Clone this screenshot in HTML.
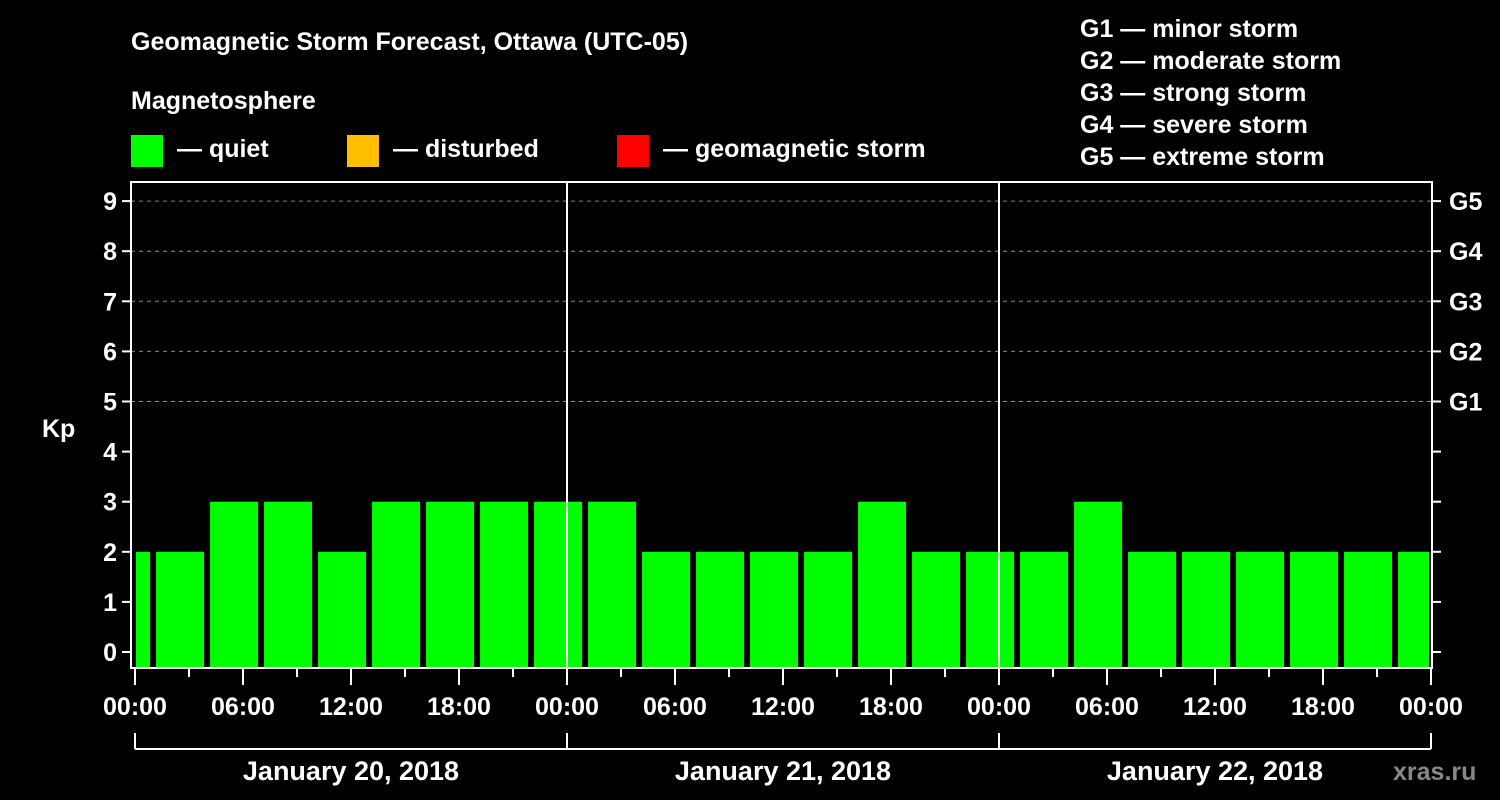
<!DOCTYPE html>
<html><head><meta charset="utf-8"><style>
body{margin:0;background:#000;}
svg{display:block;font-family:"Liberation Sans",Arial,sans-serif;font-weight:bold;}
</style></head><body>
<svg id="chart" width="1500" height="800" viewBox="0 0 1500 800">
<rect width="1500" height="800" fill="#000"/>
<text x="131" y="50" fill="#fff" font-size="25">Geomagnetic Storm Forecast, Ottawa (UTC-05)</text>
<text x="131" y="109" fill="#fff" font-size="25">Magnetosphere</text>
<g><rect x="131" y="135" width="32" height="32" fill="#00ff00"/><text x="177" y="157" fill="#fff" font-size="25">— quiet</text></g>
<g><rect x="347" y="135" width="32" height="32" fill="#ffbf00"/><text x="393" y="157" fill="#fff" font-size="25">— disturbed</text></g>
<g><rect x="617" y="135" width="32" height="32" fill="#ff0000"/><text x="663" y="157" fill="#fff" font-size="25">— geomagnetic storm</text></g>
<g fill="#fff" font-size="25">
<text x="1080" y="37">G1 — minor storm</text>
<text x="1080" y="69">G2 — moderate storm</text>
<text x="1080" y="101">G3 — strong storm</text>
<text x="1080" y="133">G4 — severe storm</text>
<text x="1080" y="165">G5 — extreme storm</text>
</g>
<text x="42" y="437" fill="#fff" font-size="25">Kp</text>
<g id="grid"></g><g id="bars"></g><g id="axes"></g>
<text x="1393" y="780" fill="#888" font-size="25">xras.ru</text>
</svg>
<script>
const kpValues=[2,2,3,3,2,3,3,3,3,3,2,2,2,2,3,2,2,2,3,2,2,2,2,2,2];
const yTicks=[0,1,2,3,4,5,6,7,8,9];
const gLabels=["G1","G2","G3","G4","G5"];
const xTickLabels=["00:00","06:00","12:00","18:00","00:00","06:00","12:00","18:00","00:00","06:00","12:00","18:00","00:00"];
const dayLabels=["January 20, 2018","January 21, 2018","January 22, 2018"];
const NS="http://www.w3.org/2000/svg";
const L=131,R=1432,T=182,B=668,X0=135,dayW=432;
const y=v=>652-v*50.1;
const xh=h=>X0+h*dayW/24; // hours from start
function mk(tag,attrs,parent,txt){const e=document.createElementNS(NS,tag);for(const k in attrs)e.setAttribute(k,attrs[k]);if(txt!=null)e.textContent=txt;document.getElementById(parent).appendChild(e);return e;}
// grid dashed for 5..9
yTicks.forEach(v=>{if(v>=5){const l=mk('line',{x1:L,x2:R,y1:y(v),y2:y(v),stroke:'#888','stroke-dasharray':'4,4','stroke-width':1},'grid');

}});
// bars: each 3h slot, centered offset
kpValues.forEach((v,i)=>{
 let x1=xh(i*3-1.83),x2=x1+48;
 x1=Math.max(x1,X0+1);x2=Math.min(x2,R-3);
 const c=v>=5?'#ff0000':(v>=4?'#ffbf00':'#00ff00');
 const r=mk('rect',{x:x1,y:y(v),width:x2-x1,height:B-y(v),fill:c},'bars');
 
 
});
// frame
const f=mk('rect',{x:L,y:T,width:R-L,height:B-T,fill:'none',stroke:'#fff','stroke-width':2},'axes');


[1,2].forEach(d=>{const l=mk('line',{x1:xh(24*d),x2:xh(24*d),y1:T,y2:B,stroke:'#fff','stroke-width':2},'axes');

});
yTicks.forEach(v=>{
 mk('line',{x1:L-9,x2:L,y1:y(v),y2:y(v),stroke:'#fff','stroke-width':2},'axes');
 mk('line',{x1:R,x2:R+9,y1:y(v),y2:y(v),stroke:'#fff','stroke-width':2},'axes');
 const t=mk('text',{x:L-14,y:y(v)+9,fill:'#fff','font-size':25,'text-anchor':'end'},'axes',String(v));
 
 
});
gLabels.forEach((g,i)=>{const t=mk('text',{x:R+17,y:y(i+5)+9,fill:'#fff','font-size':25},'axes',g);
 
 });
for(let h=0;h<=72;h+=3){const major=h%6===0;mk('line',{x1:xh(h),x2:xh(h),y1:B,y2:B+(major?17:9),stroke:'#fff','stroke-width':2},'axes');}
xTickLabels.forEach((s,i)=>{const t=mk('text',{x:xh(i*6),y:715,fill:'#fff','font-size':25,'text-anchor':'middle'},'axes',s);
 
 });
mk('line',{x1:X0,x2:xh(72),y1:749,y2:749,stroke:'#fff','stroke-width':2},'axes');
for(let d=0;d<=3;d++)mk('line',{x1:xh(24*d),x2:xh(24*d),y1:733,y2:749,stroke:'#fff','stroke-width':2},'axes');
dayLabels.forEach((s,i)=>{const t=mk('text',{x:xh(24*i+12),y:780,fill:'#fff','font-size':27,'text-anchor':'middle'},'axes',s);
 
 });
</script>
</body></html>
